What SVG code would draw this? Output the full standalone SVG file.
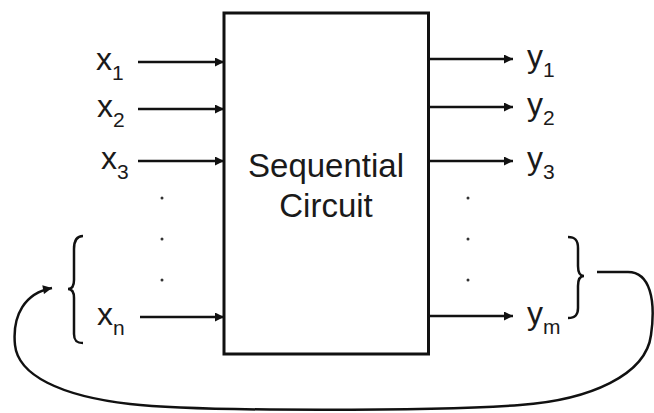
<svg xmlns="http://www.w3.org/2000/svg" width="654" height="413" viewBox="0 0 654 413">
<defs>
<marker id="ah" viewBox="0 0 10 10" refX="10" refY="5" markerWidth="11" markerHeight="9" markerUnits="userSpaceOnUse" orient="auto"><path d="M0,0 L10,5 L0,10 Z" fill="#111"/></marker>
<style>
.t{font-family:"Liberation Sans",Arial,sans-serif;fill:#1a1a1a}
.lbl{font-size:32px}
.sub{font-size:21px}
.w{stroke:#111;stroke-width:2.5;fill:none}
.dot{fill:#333}
</style>
</defs>
<rect width="654" height="413" fill="#fff"/>
<g id="circuit">
<rect x="224" y="13" width="204.5" height="341" fill="#fff" stroke="#111" stroke-width="3"/>
<text class="t" x="326" y="177" font-size="33" text-anchor="middle">Sequential</text>
<text class="t" x="326" y="217" font-size="33" text-anchor="middle">Circuit</text>
</g>
<g id="inputs">
<text class="t lbl" x="96" y="70">x<tspan class="sub" dy="10">1</tspan></text>
<text class="t lbl" x="97" y="117">x<tspan class="sub" dy="10">2</tspan></text>
<text class="t lbl" x="101" y="169">x<tspan class="sub" dy="10">3</tspan></text>
<text class="t lbl" x="97" y="325">x<tspan class="sub" dy="10">n</tspan></text>
<circle class="dot" cx="162" cy="198" r="1.5"/>
<circle class="dot" cx="162" cy="239" r="1.5"/>
<circle class="dot" cx="162" cy="280" r="1.5"/>
<path class="w" d="M83,236 C76,236 74,241 74,249 L74,280 C74,286 72,289 68,289 C72,289 74,292 74,298 L74,334 C74,340 76,343 83,343"/>
</g>
<g id="outputs">
<text class="t lbl" x="527" y="67">y<tspan class="sub" dy="10">1</tspan></text>
<text class="t lbl" x="527" y="115">y<tspan class="sub" dy="10">2</tspan></text>
<text class="t lbl" x="527" y="169">y<tspan class="sub" dy="10">3</tspan></text>
<text class="t lbl" x="527" y="324">y<tspan class="sub" dy="10">m</tspan></text>
<circle class="dot" cx="468" cy="198" r="1.5"/>
<circle class="dot" cx="468" cy="239" r="1.5"/>
<circle class="dot" cx="468" cy="280" r="1.5"/>
<path class="w" d="M568,237 C576,237 578,241 578,248 L578,266 C578,272 580,276 584,276 C580,276 578,280 578,286 L578,308 C578,314 576,318 568,318"/>
</g>
<g id="connectors">
<line class="w" x1="138" y1="62" x2="224" y2="62" marker-end="url(#ah)"/>
<line class="w" x1="138" y1="109" x2="224" y2="109" marker-end="url(#ah)"/>
<line class="w" x1="138" y1="161" x2="224" y2="161" marker-end="url(#ah)"/>
<line class="w" x1="140" y1="317" x2="224" y2="317" marker-end="url(#ah)"/>
<line class="w" x1="428" y1="59" x2="513" y2="59" marker-end="url(#ah)"/>
<line class="w" x1="428" y1="107" x2="513" y2="107" marker-end="url(#ah)"/>
<line class="w" x1="428" y1="161" x2="513" y2="161" marker-end="url(#ah)"/>
<line class="w" x1="428" y1="316" x2="513" y2="316" marker-end="url(#ah)"/>
<path class="w" d="M597,272 L628,272 C650,272 656,300 651,335 C646,375 590,400 520,405 C440,411 200,412 130,404 C60,396 18,375 15,345 C12,315 25,293 52,288" marker-end="url(#ah)"/>
</g>
</svg>
